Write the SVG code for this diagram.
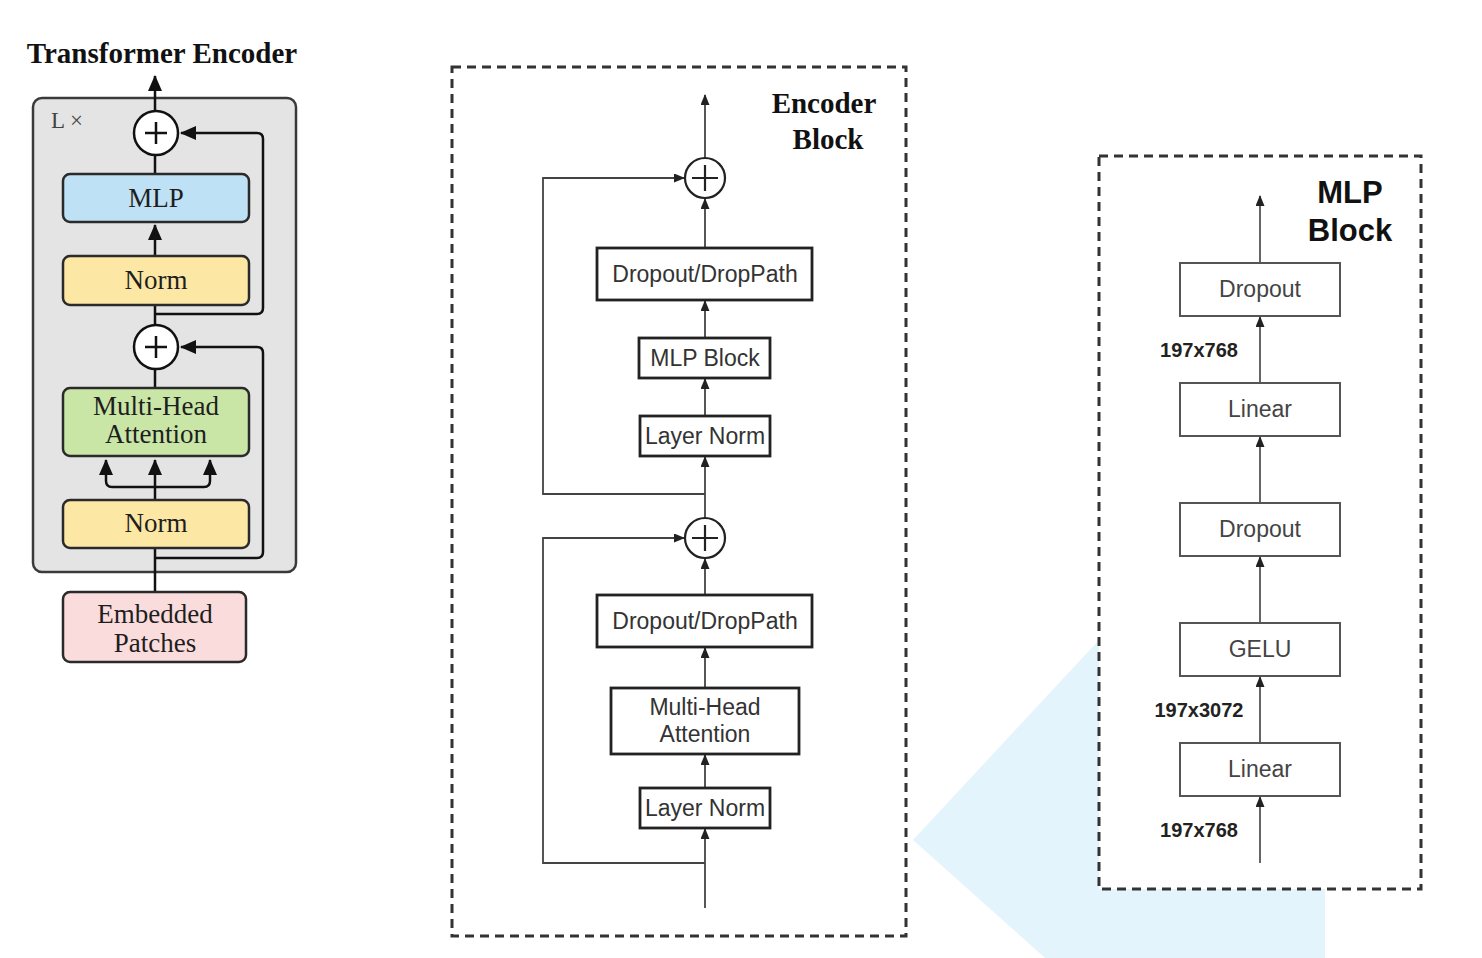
<svg xmlns="http://www.w3.org/2000/svg" width="1482" height="958" viewBox="0 0 1482 958">
<defs>
<marker id="bigArrow" markerUnits="userSpaceOnUse" markerWidth="16" markerHeight="14" refX="15" refY="7" orient="auto" viewBox="0 0 16 14">
<path d="M0,0 L16,7 L0,14 z" fill="#111"/>
</marker>
<marker id="smallArrow" markerUnits="userSpaceOnUse" markerWidth="11" markerHeight="9" refX="10" refY="4.5" orient="auto" viewBox="0 0 11 9">
<path d="M0,0 L11,4.5 L0,9 z" fill="#222"/>
</marker>
<style>
.serif{font-family:"Liberation Serif","Times New Roman",serif;}
.sans{font-family:"Liberation Sans",Arial,sans-serif;}
.lbox{stroke:#2a2a2a;stroke-width:2.5;}
.lline{stroke:#111;stroke-width:2.5;fill:none;}
.ltext{font-size:27px;fill:#1e1e1e;text-anchor:middle;}
.mbox{fill:#fff;stroke:#222;stroke-width:2.8;}
.mline{stroke:#444;stroke-width:1.8;fill:none;}
.mtext{font-size:23px;fill:#333;text-anchor:middle;}
.rbox{fill:#fff;stroke:#555;stroke-width:2;}
.rline{stroke:#555;stroke-width:1.8;fill:none;}
.rtext{font-size:23px;fill:#444;text-anchor:middle;}
.dim{font-size:20px;font-weight:bold;fill:#222;text-anchor:middle;}
.frame{fill:none;stroke:#333;stroke-width:3;stroke-dasharray:9 6;}
</style>
</defs>
<rect width="1482" height="958" fill="#fff"/>
<polygon points="1099,640 913,840 1045,958 1325,958 1325,640" fill="#e4f4fc"/>

<!-- Left panel -->
<g id="left-panel">
<text class="serif" x="162" y="63" font-size="29" font-weight="bold" text-anchor="middle" fill="#111">Transformer Encoder</text>
<rect id="encoder-frame" x="33" y="98" width="263" height="474" rx="9" fill="#e4e4e4" stroke="#3a3a3a" stroke-width="2.5"/>
<text class="serif" x="51" y="128" font-size="23" fill="#444">L ×</text>
</g>

<g id="connectors-left">
<path class="lline" d="M155,111 V76" marker-end="url(#bigArrow)"/>
<path class="lline" d="M155,174 V155"/>
<path class="lline" d="M155,256 V225" marker-end="url(#bigArrow)"/>
<path class="lline" d="M155,305 V325"/>
<path class="lline" d="M155,314 H257 Q263,314 263,308 V139 Q263,133 257,133 H181" marker-end="url(#bigArrow)"/>
<path class="lline" d="M155,388 V369"/>
<path class="lline" d="M155,558 H257 Q263,558 263,552 V353 Q263,347 257,347 H181" marker-end="url(#bigArrow)"/>
<path class="lline" d="M155,500 V460" marker-end="url(#bigArrow)"/>
<path class="lline" d="M155,487 H112 Q106,487 106,481 V460" marker-end="url(#bigArrow)"/>
<path class="lline" d="M155,487 H204 Q210,487 210,481 V460" marker-end="url(#bigArrow)"/>
<path class="lline" d="M155,592 V548"/>
</g>

<g id="l-add-top">
<circle cx="156" cy="133" r="22" fill="#fff" stroke="#111" stroke-width="2.5"/>
<path d="M145,133 H167 M156,122 V144" stroke="#111" stroke-width="2.5"/>
</g>
<g id="l-mlp">
<rect class="lbox" x="63" y="174" width="186" height="48" rx="7" fill="#bfe1f5"/>
<text class="serif ltext" x="156" y="207">MLP</text>
</g>
<g id="l-norm-top">
<rect class="lbox" x="63" y="256" width="186" height="49" rx="7" fill="#fde7a5"/>
<text class="serif ltext" x="156" y="289">Norm</text>
</g>
<g id="l-add-bottom">
<circle cx="156" cy="347" r="22" fill="#fff" stroke="#111" stroke-width="2.5"/>
<path d="M145,347 H167 M156,336 V358" stroke="#111" stroke-width="2.5"/>
</g>
<g id="l-mha">
<rect class="lbox" x="63" y="388" width="186" height="68" rx="7" fill="#c9e6a7"/>
<text class="serif ltext" x="156" y="415">Multi-Head</text>
<text class="serif ltext" x="156" y="443">Attention</text>
</g>
<g id="l-norm-bottom">
<rect class="lbox" x="63" y="500" width="186" height="48" rx="7" fill="#fde7a5"/>
<text class="serif ltext" x="156" y="532">Norm</text>
</g>
<g id="l-embedded">
<rect class="lbox" x="63" y="592" width="183" height="70" rx="7" fill="#fbdcdc"/>
<text class="serif ltext" x="155" y="623">Embedded</text>
<text class="serif ltext" x="155" y="652">Patches</text>
</g>

<!-- Middle panel -->
<g id="encoder-block">
<rect class="frame" x="452" y="67" width="454" height="869"/>
<text class="serif" x="824" y="113" font-size="29" font-weight="bold" text-anchor="middle" fill="#111">Encoder</text>
<text class="serif" x="828" y="149" font-size="29" font-weight="bold" text-anchor="middle" fill="#111">Block</text>
</g>

<g id="connectors-middle">
<path class="mline" d="M705,158 V95" marker-end="url(#smallArrow)"/>
<path class="mline" d="M705,248 V199" marker-end="url(#smallArrow)"/>
<path class="mline" d="M705,338 V301" marker-end="url(#smallArrow)"/>
<path class="mline" d="M705,416 V379" marker-end="url(#smallArrow)"/>
<path class="mline" d="M705,518 V457" marker-end="url(#smallArrow)"/>
<path class="mline" d="M705,494 H543 V178 H684" marker-end="url(#smallArrow)"/>
<path class="mline" d="M705,595 V559" marker-end="url(#smallArrow)"/>
<path class="mline" d="M705,688 V648" marker-end="url(#smallArrow)"/>
<path class="mline" d="M705,788 V755" marker-end="url(#smallArrow)"/>
<path class="mline" d="M705,908 V829" marker-end="url(#smallArrow)"/>
<path class="mline" d="M705,863 H543 V538 H684" marker-end="url(#smallArrow)"/>
</g>

<g id="m-add-top">
<circle cx="705" cy="178" r="20" fill="#fff" stroke="#222" stroke-width="2.2"/>
<path d="M692,178 H718 M705,165 V191" stroke="#222" stroke-width="2.2"/>
</g>
<g id="m-droppath-top">
<rect class="mbox" x="597" y="248" width="215" height="52"/>
<text class="sans mtext" x="705" y="282">Dropout/DropPath</text>
</g>
<g id="m-mlp-block">
<rect class="mbox" x="639" y="338" width="131" height="40"/>
<text class="sans mtext" x="705" y="366">MLP Block</text>
</g>
<g id="m-layernorm-top">
<rect class="mbox" x="640" y="416" width="130" height="40"/>
<text class="sans mtext" x="705" y="444">Layer Norm</text>
</g>
<g id="m-add-bottom">
<circle cx="705" cy="538" r="20" fill="#fff" stroke="#222" stroke-width="2.2"/>
<path d="M692,538 H718 M705,525 V551" stroke="#222" stroke-width="2.2"/>
</g>
<g id="m-droppath-bottom">
<rect class="mbox" x="597" y="595" width="215" height="52"/>
<text class="sans mtext" x="705" y="629">Dropout/DropPath</text>
</g>
<g id="m-mha">
<rect class="mbox" x="611" y="688" width="188" height="66"/>
<text class="sans mtext" x="705" y="715">Multi-Head</text>
<text class="sans mtext" x="705" y="742">Attention</text>
</g>
<g id="m-layernorm-bottom">
<rect class="mbox" x="640" y="788" width="130" height="40"/>
<text class="sans mtext" x="705" y="816">Layer Norm</text>
</g>

<!-- Right panel -->
<g id="mlp-block">
<rect x="1099" y="156" width="322" height="733" fill="#fff"/>
<rect class="frame" x="1099" y="156" width="322" height="733"/>
<text class="sans" x="1350" y="203" font-size="31" font-weight="bold" text-anchor="middle" fill="#111">MLP</text>
<text class="sans" x="1350" y="241" font-size="31" font-weight="bold" text-anchor="middle" fill="#111">Block</text>
</g>

<g id="connectors-right">
<path class="rline" d="M1260,263 V196" marker-end="url(#smallArrow)"/>
<path class="rline" d="M1260,382 V317" marker-end="url(#smallArrow)"/>
<path class="rline" d="M1260,502 V437" marker-end="url(#smallArrow)"/>
<path class="rline" d="M1260,622 V557" marker-end="url(#smallArrow)"/>
<path class="rline" d="M1260,742 V677" marker-end="url(#smallArrow)"/>
<path class="rline" d="M1260,863 V797" marker-end="url(#smallArrow)"/>
</g>

<g id="r-dropout-top">
<rect class="rbox" x="1180" y="263" width="160" height="53"/>
<text class="sans rtext" x="1260" y="297">Dropout</text>
</g>
<g id="r-linear-top">
<rect class="rbox" x="1180" y="383" width="160" height="53"/>
<text class="sans rtext" x="1260" y="417">Linear</text>
</g>
<g id="r-dropout-bottom">
<rect class="rbox" x="1180" y="503" width="160" height="53"/>
<text class="sans rtext" x="1260" y="537">Dropout</text>
</g>
<g id="r-gelu">
<rect class="rbox" x="1180" y="623" width="160" height="53"/>
<text class="sans rtext" x="1260" y="657">GELU</text>
</g>
<g id="r-linear-bottom">
<rect class="rbox" x="1180" y="743" width="160" height="53"/>
<text class="sans rtext" x="1260" y="777">Linear</text>
</g>
<g id="dims">
<text class="sans dim" x="1199" y="357">197x768</text>
<text class="sans dim" x="1199" y="717">197x3072</text>
<text class="sans dim" x="1199" y="837">197x768</text>
</g>
</svg>
